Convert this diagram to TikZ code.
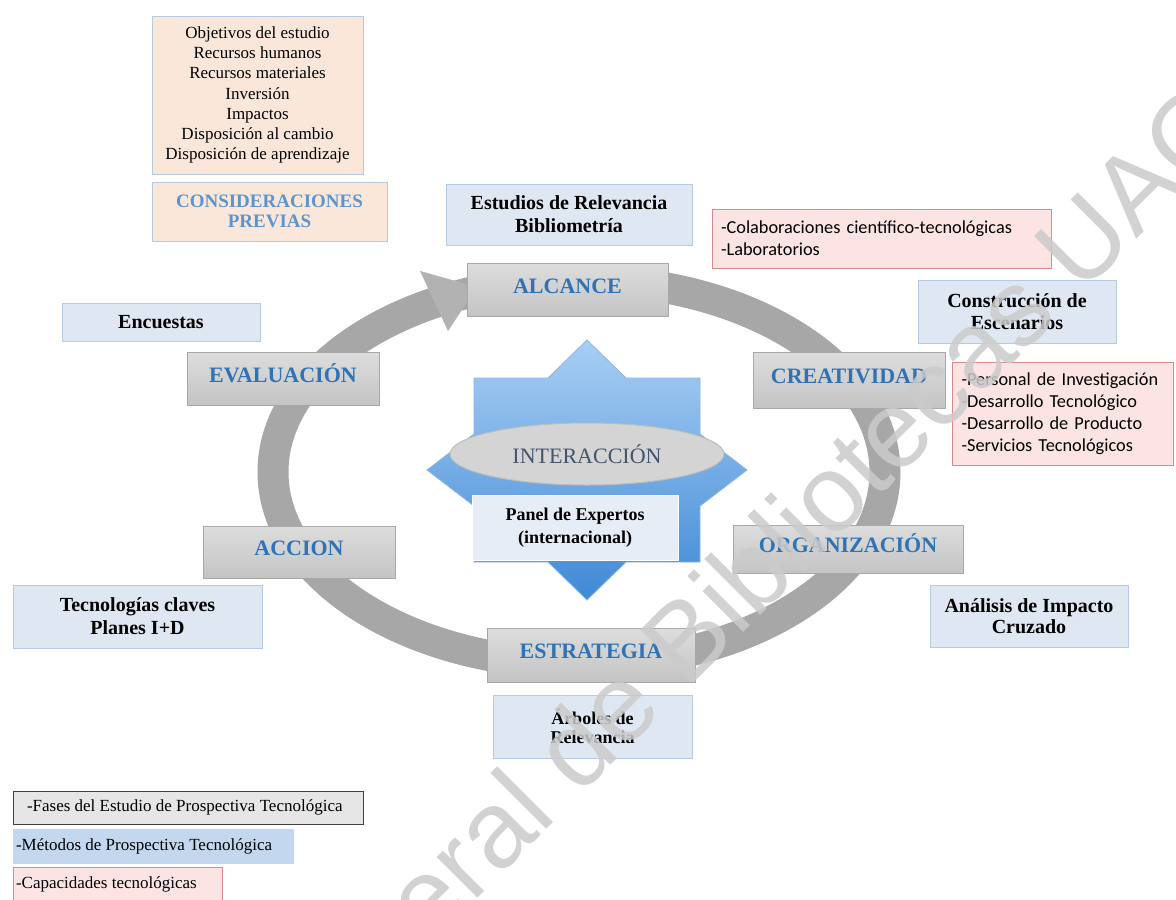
\documentclass[tikz,border=0pt]{standalone}
\usepackage{fontspec}
\setmainfont{Liberation Serif}
\newfontfamily\calib{Carlito}
\newfontfamily\wmfont{Liberation Sans}
\usetikzlibrary{shapes.geometric}
\definecolor{bluefill}{HTML}{DEE7F2}
\definecolor{blueline}{HTML}{B7CAE2}
\definecolor{peach}{HTML}{FBE7DA}
\definecolor{pinkfill}{HTML}{FCE4E4}
\definecolor{pinkline}{HTML}{D98A8A}
\definecolor{phasetop}{HTML}{DDDDDD}
\definecolor{phasebot}{HTML}{C4C4C4}
\definecolor{phaseline}{HTML}{A8A8A8}
\definecolor{phasetext}{HTML}{2F73B5}
\definecolor{considtext}{HTML}{5B95CF}
\definecolor{ringgray}{HTML}{A7A7A7}
\definecolor{headgray}{HTML}{B2B2B2}
\definecolor{startop}{HTML}{A9CEF4}
\definecolor{starbot}{HTML}{3F89D6}
\definecolor{starline}{HTML}{8DB6E6}
\definecolor{ellfill}{HTML}{D4D4D4}
\definecolor{ellline}{HTML}{BDBDBD}
\definecolor{elltext}{HTML}{44546A}
\definecolor{panelfill}{HTML}{E7EDF6}
\definecolor{leggray}{HTML}{E6E6E6}
\definecolor{legline}{HTML}{404040}
\definecolor{legblue}{HTML}{C3D7EE}
\definecolor{wmgray}{HTML}{CBCBCB}
\tikzset{
  base/.style={inner sep=0pt, align=center},
  bluebox/.style={base, fill=bluefill, draw=blueline, line width=1pt,
    font=\fontsize{20}{23}\selectfont\bfseries},
  peachbox/.style={base, fill=peach, draw=blueline, line width=1pt},
  pinkbox/.style={base, fill=pinkfill, draw=pinkline, line width=1pt, align=left,
    inner xsep=9pt, font=\calib\fontsize{18.3}{22}\selectfont},
  phase/.style={base, top color=phasetop, bottom color=phasebot, draw=phaseline,
    line width=1pt, text=phasetext, font=\fontsize{22}{24}\selectfont\bfseries,
    text height=15pt, text depth=8pt},
  legendbox/.style={inner sep=0pt, line width=1pt, font=\fontsize{17}{20}\selectfont},
}
\begin{document}
\begin{tikzpicture}[x=1pt,y=-1pt]
\useasboundingbox[fill=white] (0,0) rectangle (1176,900);
% ring with arrowhead
\draw[ringgray, line width=31pt] (579,472) ellipse [x radius=306, y radius=192];
\fill[headgray] (420,271) -- (477,287) -- (448,331) -- cycle;
% central star
\shade[top color=startop, bottom color=starbot, draw=starline, line width=0.8pt]
  (747,470) -- (700,434) -- (700,378) -- (626,378) -- (587,340) -- (548,378) --
  (474,378) -- (474,434) -- (427,470) -- (474,506) -- (474,562) -- (548,562) --
  (587,600) -- (626,562) -- (700,562) -- (700,506) -- cycle;
\node[ellipse, fill=ellfill, draw=ellline, line width=1pt, minimum width=274,
  minimum height=62, inner sep=0pt, text=elltext,
  font=\fontsize{22}{24}\selectfont] (inter) at (587,454) {INTERACCIÓN};
\node[base, fill=panelfill, draw=white, line width=1pt, minimum width=206,
  minimum height=65, font=\fontsize{18}{23}\selectfont\bfseries]
  (panel) at (575,527.5) {Panel de Expertos\\(internacional)};
% phases
\node[phase, minimum width=201, minimum height=53] (alcance) at (567.5,289.5) {ALCANCE};
\node[phase, minimum width=192, minimum height=56] (creat) at (849,380) {CREATIVIDAD};
\node[phase, minimum width=230, minimum height=48] (organiz) at (848,549) {ORGANIZACIÓN};
\node[phase, minimum width=208, minimum height=54] (estrat) at (591,655) {ESTRATEGIA};
\node[phase, minimum width=192, minimum height=52] (accion) at (299,552) {ACCION};
\node[phase, minimum width=192, minimum height=53] (evalua) at (283,378.5) {EVALUACIÓN};
% previous considerations
\node[peachbox, minimum width=211, minimum height=158,
  font=\fontsize{17}{20.2}\selectfont] (objet) at (257.5,95)
  {Objetivos del estudio\\Recursos humanos\\Recursos materiales\\Inversión\\Impactos\\Disposición al cambio\\Disposición de aprendizaje};
\node[peachbox, minimum width=235, minimum height=59, text=considtext,
  font=\fontsize{19}{20.5}\selectfont\bfseries] (consid) at (269.5,211.5)
  {CONSIDERACIONES\\PREVIAS};
% methods
\node[bluebox, minimum width=246, minimum height=61] (estud) at (569,214.5)
  {Estudios de Relevancia\\Bibliometría};
\node[bluebox, minimum width=198, minimum height=63, font=\fontsize{20}{21.5}\selectfont\bfseries]
  (constr) at (1017,311.5) {Construcción de\\Escenarios};
\node[bluebox, minimum width=198, minimum height=38] (encu) at (161,322) {Encuestas};
\node[bluebox, minimum width=249, minimum height=63] (tecno) at (137.5,616.5)
  {Tecnologías claves\\Planes I+D};
\node[bluebox, minimum width=198, minimum height=62, font=\fontsize{20}{21}\selectfont\bfseries]
  (analis) at (1029,616) {Análisis de Impacto\\Cruzado};
\node[bluebox, minimum width=199, minimum height=63, font=\fontsize{18}{19.5}\selectfont\bfseries]
  (arbol) at (592.5,726.5) {Árboles de\\Relevancia};
% capabilities
\node[pinkbox, text width=321, minimum height=59] (cap1) at (881.5,238.5)
  {-Colaboraciones científico-tecnológicas\\-Laboratorios};
\node[pinkbox, text width=203, minimum height=103] (cap2) at (1063,413.5)
  {-Personal de Investigación\\-Desarrollo Tecnológico\\-Desarrollo de Producto\\-Servicios Tecnológicos};
% legend
\node[legendbox, fill=leggray, draw=legline, minimum height=33]
  (leg1) at (188,807.5) {\makebox[350pt][l]{\hspace*{14pt}-Fases del Estudio de Prospectiva Tecnológica}};
\node[legendbox, fill=legblue, draw=legblue, minimum height=34]
  (leg2) at (153,846) {\makebox[280pt][l]{\hspace*{3pt}-Métodos de Prospectiva Tecnológica}};
\node[legendbox, fill=pinkfill, draw=pinkline, minimum height=35]
  (leg3) at (117.5,884.5) {\makebox[209pt][l]{\hspace*{3pt}-Capacidades tecnológicas}};
% watermark
\node[rotate=45, text=wmgray, opacity=0.85, inner sep=0pt,
  font=\wmfont\fontsize{109}{117}\selectfont] (wm) at (574,760)
  {Dirección General de Bibliotecas UAQ};
\end{tikzpicture}
\end{document}
